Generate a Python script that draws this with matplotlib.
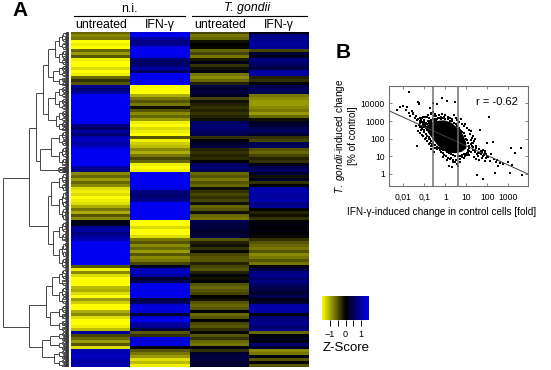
import numpy as np
import matplotlib
matplotlib.use('Agg')
import matplotlib.pyplot as plt
from matplotlib.colors import LinearSegmentedColormap
from matplotlib.collections import LineCollection

plt.rcParams['font.family'] = ['Liberation Sans', 'DejaVu Sans']
plt.rcParams['mathtext.fontset'] = 'custom'
plt.rcParams['mathtext.it'] = 'Liberation Sans:italic'
plt.rcParams['mathtext.rm'] = 'Liberation Sans'

W, H = 551, 370

# z-scores, one value per heatmap row
ni_untreated = [-0.6, -0.8, -0.7, -1.5, -1.4, -1.5, -0.6, -0.9, -0.5, -1.4, -1.5, -1.5, -1.3, -1.5, -1.4, -0.6, -0.3, -0.5,
                0.9, 0.7, 1.0, 1.5, 1.5, 1.5, 1.5, 1.5, 1.5, 1.5, 1.5, 1.5, 1.5, 0.8, 0.6, 1.0, 0.7, 1.1, 1.2, 1.0, 1.2,
                1.5, 1.5, 1.5, 1.5, 1.5, 1.5, 1.0, 0.8, -0.8, -0.6, -0.9, -0.6, -0.8,
                -1.3, -1.4, -1.3, -1.5, -1.4, -1.3, -1.0, -0.7, -1.0, -0.5, -0.8, 0.1, 0.2, 0.9, 1.0, 0.8, 1.0, 1.1,
                1.5, 1.5, 1.5, 1.5, 1.5, 1.5, 1.5, 1.5, -0.5,
                -1.4, -0.8, -1.3, -1.5, -1.5, -1.5, -1.1, -1.0, -1.3, -1.5, -0.9, -1.2, -1.5, -1.5, -1.0, -0.8, -1.3, -1.5, -1.5, -1.4, -1.1,
                1.0, -0.4, -0.6, -0.9, -0.5, -1.3, 1.1, 1.1, 1.2, 1.1, 1.0, 1.1]
ni_ifn = [1.4, 1.5, 1.0, 0.8, 0.9, 1.4, 1.5, 1.5, 1.4, 0.7, 0.6, 0.7, 1.0, 0.6, 1.5, 1.5, 1.5, 1.5,
          -1.5, -1.5, -1.5, -1.0, -0.7, -0.5, -0.7, -0.1, -0.5, -0.8, -0.6, -0.9, -1.4, -1.5, -1.3, -1.4, -1.5, -0.5,
          -1.4, -1.2, -1.1, -0.8, -1.0, -0.7, -0.4, -0.6, -1.4, -1.5, -1.4, 1.5, 1.5, 1.5, 1.5, 1.5,
          1.4, 0.8, 0.7, 0.7, 0.9, 1.5, 1.5, 1.5, 1.5, 1.5, 1.5, -1.5, -1.5, -1.3, -1.5, -1.5, -1.3,
          -0.7, -0.5, -0.8, -0.6, -0.9, -0.5, -0.8, -0.7, -0.4, 0.2, 1.1, 1.2, 1.0, 0.3, 0.5,
          1.4, 1.5, 1.4, 1.5, 1.4, 0.4, 0.6, 1.3, 1.4, 1.3, 0.3, 1.3, 1.5, 1.0, 0.9, 0.4,
          -0.5, -0.3, 1.4, 1.3, 1.4, 0.1, -0.5, -0.7, -0.9, -1.3, -1.1, -1.4]
tg_untreated = [-0.4, -0.7, -0.6, -0.1, 0.0, -0.05, -0.6, -0.4, -0.7, -0.15, 0.1, -0.3, -0.1, 0.1, -0.7, -0.8, -0.6, -0.2,
                0.4, 0.3, 0.4, 0.2, -0.4, -0.1, -0.2, -0.3, -0.2, -0.3, -0.2, -0.1, 0.6, 0.7, 0.7, 0.6, 0.5, -0.3, 0.0,
                0.3, 0.4, -0.2, -0.3, -0.2, -0.25, 0.0, 0.6, 0.7, 0.5, -0.6, -0.5, -0.7, -0.5, -0.6,
                -0.1, -0.3, -0.4, -0.3, -0.4, -0.1, -0.6, -0.5, -0.1, -0.6, -0.7, 0.5, 0.4, 0.4, 0.3, 0.3, 0.4,
                -0.5, -0.2, -0.1, -0.3, -0.05, -0.4, -0.5, -0.5, -0.2, -0.4, -0.5, -0.2, 0.05, -0.1, 0.0,
                -0.5, -0.6, -0.5, -0.4, 0.0, -0.1, -0.5, -0.6, -0.5, 0.0, -0.6, -0.5, 0.0, -0.4, -0.5, -0.3,
                -0.05, -0.5, -0.3, -0.6, -0.7, 0.05, -0.3, 0.3, 0.4, 0.4, 0.3, 0.35]
tg_ifn = [0.1, 0.8, 0.9, 0.9, 1.0, 0.9, -0.4, 0.3, 0.2, 0.8, 0.7, 0.6, 0.4, 1.0, 1.0, -0.2, -0.3, 0.0,
          0.5, 0.6, 0.5, -0.7, -0.8, -0.9, -0.9, -0.8, -0.7, -0.9, -0.6, -0.1, 0.2, 0.3, 0.5, 0.6, 0.3, -0.3, -0.4,
          0.5, 0.6, -0.5, -0.6, -0.4, -0.2, -0.3, 0.1, 0.5, 0.6, 0.3, -0.1, 0.2, -0.3, 0.0,
          1.0, 1.1, 1.0, 1.0, 1.1, 0.8, 0.9, 0.05, -0.2, -0.1, -0.3, 0.0, 0.1, 0.0, 0.1, 0.0, -0.05,
          -0.3, -0.5, -0.6, -0.7, -0.5, -0.8, -0.7, -0.5, -0.7, 0.05, 0.4, 0.8, 0.9, 0.7, 0.8,
          0.6, 0.5, 0.4, 0.3, 0.5, 0.1, 0.3, 1.0, 1.1, 1.0, 0.1, 0.7, 0.8, 0.9, 0.7, 0.8,
          -0.6, 0.1, 0.2, 0.1, 0.7, 0.3, -0.8, -0.7, 0.1, -0.5, 0.0, -0.5]

# dendrogram: (height, row of the connector, upper child, lower child), a leaf group is (first row, last row)
tree = (66.7, 60,
        (41.5, 48.7,
         (34, 32.3,
          (27.5, 20.3,
           (22.5, 11, (15, 5.7, (0, 6), (6, 11)), (17, 15, (11, 15), (15, 18))),
           (22.5, 27.3, (15, 22, (18, 22), (22, 26)), (14, 29.5, (26, 30), (30, 33)))),
          (30.5, 43, (19, 39, (33, 38), (38, 45)), (12, 46, (45, 46), (46, 47)))),
         (22, 65,
          (19, 54.7, (47, 53), (53, 63)),
          (17, 71, (63, 70), (70, 79)))),
        (41, 98.7,
         (24.5, 91.3,
          (18, 85, (79, 85), (85, 91)),
          (20, 95.3, (91, 96), (96, 100))),
         (28, 105.3,
          (20, 103, (100, 103), (103, 106)),
          (16, 108.7, (106, 109), (109, 112)))))

# panel B, fold change vs % of control
x_ticks = [0.01, 0.1, 1, 10, 100, 1000]
x_tick_labels = ['0,01', '0,1', '1', '10', '100', '1000']
y_ticks = [1, 10, 100, 1000, 10000]
y_tick_labels = ['1', '10', '100', '1000', '10000']
fit_x = [0.0021, 8700]
fit_y = [3800, 1.0]
cut_x = [0.25, 4]
# the part of the cloud too dense to read single dots
core_x = [0.12, 0.2, 0.35, 0.9, 2.0, 4.0, 7.0, 10, 10, 6, 3, 1.4, 0.8, 0.45, 0.25, 0.15]
core_y = [500, 800, 1000, 1100, 800, 380, 170, 60, 28, 18, 15, 16, 22, 40, 100, 220]
dots_x = [0.019, 0.052, 0.058, 0.055, 0.0093, 0.0069, 0.0155, 0.0131, 0.025, 0.0048, 0.27, 0.41, 0.72, 1.16, 2.8, 0.18,
          120, 45, 180, 94, 3950, 1300, 2200, 4300, 1200, 235, 33, 60, 1000, 1500, 320, 250, 130, 90, 70, 55, 40, 30, 25,
          20, 18, 16, 22, 28, 35, 48, 65, 80, 110, 150, 210, 300, 420, 550, 0.03, 0.035, 0.04, 0.045, 0.028, 0.022, 0.018,
          0.05, 0.06, 0.065, 0.07, 0.08, 0.09, 0.1, 0.11, 0.13, 0.15, 0.17, 0.2, 0.22, 0.26, 0.3, 0.34, 0.38, 0.45, 0.5,
          0.6, 0.7, 0.85, 1.0, 1.3, 1.6, 2.2, 2.6, 3.2, 3.8, 4.5, 5.5, 6.5, 8, 9, 11, 13, 15, 17, 19, 21, 24, 27,
          0.042, 0.05, 0.06, 0.075, 0.09, 0.11, 0.13, 0.16, 0.19, 0.23, 0.28, 0.33, 0.4, 0.5, 0.62, 0.75, 0.9, 1.1, 1.4,
          1.8, 2.3, 2.8, 3.5, 4.2, 5, 6, 7.5, 9, 10.5, 12, 14, 16, 18, 1.5, 2.0, 0.55, 0.35, 0.24, 0.2, 0.045, 0.12,
          14, 20, 26, 32, 38, 44, 52, 62, 75, 88, 100, 16, 23, 30, 42, 58, 78, 0.8, 1.2, 1.7, 2.4, 3.4, 5.2, 7.5, 0.3, 0.22, 0.16,
          0.055, 0.06, 0.065, 0.07, 0.075, 0.08, 0.085, 0.09, 0.095, 0.1, 0.105, 0.11, 0.115, 0.12, 0.07, 0.08, 0.09, 0.1, 0.11, 0.13,
          0.14, 0.15, 0.16, 0.17, 0.18, 0.2, 0.22, 0.25, 0.28, 0.32, 0.36, 0.42, 0.5, 0.6, 0.75, 1.0, 1.3, 1.7, 2.1, 2.6, 3.1, 3.6,
          4.4, 5, 5.8, 6.6, 7.5, 8.5, 9.5, 11, 12, 13, 14, 13, 12, 11.5, 11, 9, 7.5, 6, 5, 4, 3, 2.4, 1.9, 1.5, 1.2, 0.95, 0.75, 0.6,
          0.5, 0.4, 0.33, 0.27, 0.22, 0.19, 0.16, 0.14, 0.12, 0.1]
dots_y = [42000, 11400, 9200, 10500, 7400, 5900, 6500, 4200, 3800, 4200, 10000, 8800, 19000, 13500, 11400, 5200,
          1770, 310, 67, 55, 31, 28, 16, 0.87, 1.1, 1.2, 0.87, 0.5, 4.6, 3.2, 3.0, 4.5, 5.5, 8, 12, 18, 25, 28, 22,
          35, 55, 80, 60, 40, 16, 14, 10, 20, 9, 14, 7, 6, 4.2, 3.5, 2400, 1500, 1900, 1100, 3000, 2000, 2800,
          1300, 1000, 1500, 1200, 1400, 1800, 1100, 1700, 1600, 2200, 1500, 2400, 2900, 3200, 2000, 2600, 1900, 1500, 2300,
          1700, 2600, 1800, 2100, 1600, 1400, 1300, 2200, 1500, 1100, 900, 1300, 700, 500, 700, 420, 300, 180, 260, 110, 150, 70, 90,
          550, 280, 220, 170, 140, 100, 75, 95, 60, 50, 42, 28, 25, 30, 18, 15, 12, 10, 8.5,
          8, 6, 5, 3.8, 3, 7, 9.5, 8, 10, 12, 15, 12, 18, 40, 3.0, 2.4, 22, 30, 40, 38, 40, 110,
          30, 24, 18, 14, 11, 15, 19, 22, 16, 13, 11, 48, 9, 7.5, 6.5, 8.5, 5.5, 9, 6.5, 7, 5, 6, 4.5, 8, 18, 25, 50,
          600, 450, 750, 520, 850, 400, 640, 480, 900, 330, 700, 560, 420, 760, 300, 370, 550, 260, 440, 650,
          300, 980, 820, 1050, 240, 1150, 900, 1300, 1050, 1350, 1150, 1250, 1400, 1300, 1450, 1350, 1250, 1050, 1000, 800, 650, 520,
          420, 330, 280, 230, 200, 140, 100, 80, 55, 40, 28, 21, 24, 18, 15, 14, 13, 12, 11, 10.5, 11, 12, 13, 15, 18, 22, 24, 26,
          28, 35, 42, 55, 70, 90, 120, 150, 190, 240]

colorbar_ticks = [-1, -0.5, 0, 0.5, 1]
colorbar_labels = ['\u22121', '', '0', '', '1']
z_max = 1.5


def place(left, top, right, bottom):
    return fig.add_axes([left / W, 1 - bottom / H, (right - left) / W, (bottom - top) / H])


def sprout(first, last, h, segs):
    # small fan of branches for one leaf group, runs down to the leaves at h = 2
    mid = (first + last) / 2
    if last - first < 0.12 or h <= 2.5:
        segs.append([(h, mid), (2, mid)])
        return mid
    cut = first + (last - first) * (0.42 if int(first * 4) % 2 else 0.58)
    next_h = 2 + (h - 2) * 0.72
    a = sprout(first, cut, next_h, segs)
    b = sprout(cut, last, next_h, segs)
    segs.append([(h, a), (h, b)])
    segs.append([(h, a), (next_h, a)])
    segs.append([(h, b), (next_h, b)])
    return mid


def branch(node, segs):
    # returns (height, row) where the parent has to connect
    if len(node) == 2:
        y = sprout(node[0], node[1], 11, segs)
        return 11, y
    h, y, top, bottom = node
    top_h, top_y = branch(top, segs)
    bot_h, bot_y = branch(bottom, segs)
    segs.append([(h, top_y), (h, bot_y)])
    segs.append([(h, top_y), (top_h, top_y)])
    segs.append([(h, bot_y), (bot_h, bot_y)])
    return h, y


fig = plt.figure(figsize=(W / 100, H / 100), dpi=100, facecolor='white')
yb = LinearSegmentedColormap.from_list('yb', ['#ffff00', '#000000', '#0000f0'])

# heatmap
ax = place(70.7, 31.7, 308.3, 367.3)
z = np.array([ni_untreated, ni_ifn, tg_untreated, tg_ifn]).T
ax.imshow(z, cmap=yb, vmin=-z_max, vmax=z_max, aspect='auto', interpolation='nearest')
ax.axis('off')

# dendrogram
ax_d = place(0, 31.7, 70, 367.3)
segs = []
branch(tree, segs)
ax_d.add_collection(LineCollection(segs, colors='#383838', linewidths=0.65))
ax_d.set_xlim(70, 0)
ax_d.set_ylim(112, 0)
ax_d.axis('off')

# header labels
fig.text(129 / W, 1 - 8.5 / H, 'n.i.', ha='center', va='center', fontsize=8.8)
fig.text(247 / W, 1 - 8.5 / H, 'T. gondii', ha='center', va='center', fontsize=8.8, style='italic')
fig.add_artist(plt.Line2D([74 / W, 185 / W], [1 - 16 / H] * 2, color='black', lw=0.8))
fig.add_artist(plt.Line2D([192 / W, 307 / W], [1 - 16 / H] * 2, color='black', lw=0.8))
for cx, label in zip([101, 160, 220.5, 279], ['untreated', 'IFN-\u03b3', 'untreated', 'IFN-\u03b3']):
    fig.text(cx / W, 1 - 25 / H, label, ha='center', va='center', fontsize=8.8)
fig.text(20 / W, 1 - 11 / H, 'A', ha='center', va='center', fontsize=15, fontweight='bold')
fig.text(343 / W, 1 - 52 / H, 'B', ha='center', va='center', fontsize=15, fontweight='bold')

# scatter
ax_s = place(389, 85.7, 528, 186)
ax_s.set_xscale('log')
ax_s.set_yscale('log')
ax_s.set_xlim(10 ** -2.68, 10 ** 3.94)
ax_s.set_ylim(10 ** -0.68, 10 ** 5.0)
ax_s.fill(core_x, core_y, color='black', lw=0)
ax_s.scatter(dots_x, dots_y, s=0.8, c='black', marker='s', linewidths=0)
ax_s.plot(fit_x, fit_y, color='#404040', lw=0.7)
for c in cut_x:
    ax_s.axvline(c, color='#707070', lw=1.1)
ax_s.set_xticks(x_ticks)
ax_s.set_xticklabels(x_tick_labels)
ax_s.set_yticks(y_ticks)
ax_s.set_yticklabels(y_tick_labels)
ax_s.minorticks_off()
ax_s.tick_params(direction='in', top=True, right=True, length=2.5, width=0.6, color='#707070', labelsize=6.2, pad=3)
ax_s.tick_params(axis='x', pad=5)
for s in ax_s.spines.values():
    s.set_color('#707070')
    s.set_linewidth(0.8)
ax_s.text(497 / W, 1 - 102 / H, 'r = -0.62', transform=fig.transFigure, ha='center', va='center', fontsize=8)
fig.text(442 / W, 1 - 211.5 / H, 'IFN-\u03b3-induced change in control cells [fold]', ha='center', va='center', fontsize=7.2)
fig.text(340 / W, 1 - 136 / H, r'$\mathit{T.\ gondii}$-induced change', rotation=90, ha='center', va='center', fontsize=7.2)
fig.text(352.5 / W, 1 - 136 / H, '[% of control]', rotation=90, ha='center', va='center', fontsize=7.2)

# colour key
ax_c = place(322.3, 295.7, 368.7, 320)
ax_c.imshow(np.linspace(-z_max, z_max, 256)[None, :], cmap=yb, vmin=-z_max, vmax=z_max, aspect='auto',
            extent=[-z_max, z_max, 0, 1])
ax_c.set_yticks([])
ax_c.set_xticks(colorbar_ticks)
ax_c.set_xticklabels(colorbar_labels)
ax_c.tick_params(axis='x', length=4.5, width=0.7, labelsize=6.5, pad=2.5)
for s in ax_c.spines.values():
    s.set_visible(False)
fig.text(346 / W, 1 - 348 / H, 'Z-Score', ha='center', va='center', fontsize=9.5)

fig.savefig('out.png', dpi=100)
